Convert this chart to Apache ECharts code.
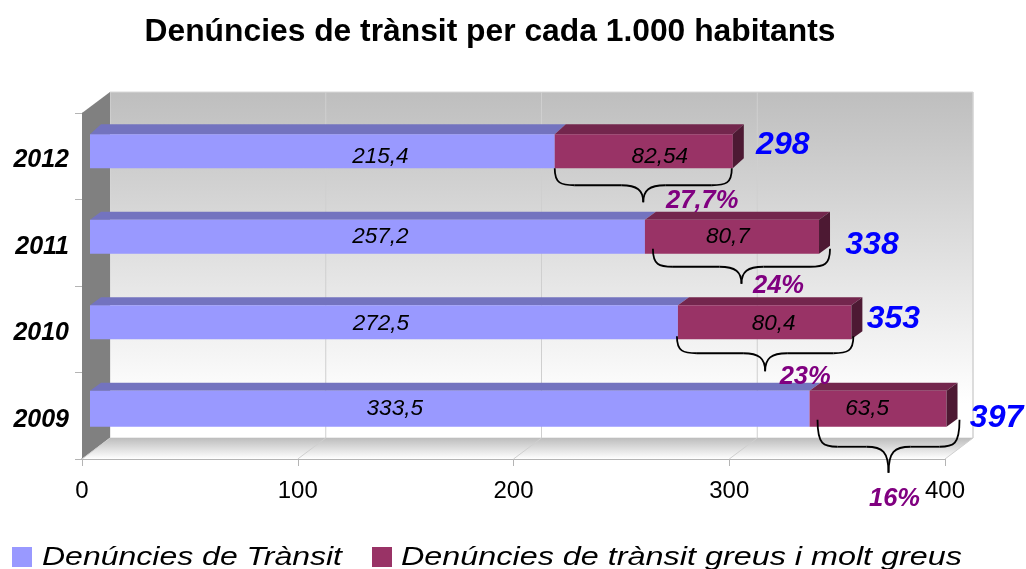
<!DOCTYPE html>
<html>
<head>
<meta charset="utf-8">
<style>
  html, body { margin: 0; padding: 0; background: #fff; }
  #chart { width: 1026px; height: 569px; }
</style>
<script src="https://cdn.jsdelivr.net/npm/echarts@6/dist/echarts.min.js"></script>
</head>
<body>
<div id="chart"></div>
<script>
// data
var years = ['2009', '2010', '2011', '2012'];
var denuncies = [333.5, 272.5, 257.2, 215.4];
var greus = [63.5, 80.4, 80.7, 82.54];
var totals = [397, 353, 338, 298];
var percents = ['16%', '23%', '24%', '27,7%'];
var xTicks = [0, 100, 200, 300, 400];
var serieNames = ['Denúncies de Trànsit', 'Denúncies de trànsit greus i molt greus'];

// hand placed bits of the 3d look, one row per year (same order as years)
var wallDx = 28, wallDy = -21;
var barShiftX = 8, barDepthX = 11;
var rowLayout = [
  { barDy: -7, barH: 36, depthY: 8, lab1: -55, lab2: -11, labDy: -7, totalDx: 58, totalDy: 2, pctDx: 6, pctDy: 83, b0: 16, b1: 21, top: 4, mid: 31, tip: 57 },
  { barDy: -7, barH: 34, depthY: 8, lab1: -3, lab2: 9, labDy: -6, totalDx: 50, totalDy: -10, pctDx: 40, pctDy: 48, b0: 7, b1: 10, top: 7, mid: 24, tip: 42 },
  { barDy: -6, barH: 34, depthY: 8, lab1: 13, lab2: -4, labDy: -6, totalDx: 61, totalDy: 2, pctDx: 37, pctDy: 43, b0: 16, b1: 19, top: 6, mid: 24, tip: 41 },
  { barDy: -5, barH: 34, depthY: 10, lab1: 58, lab2: 16, labDy: 0, totalDx: 58, totalDy: -11, pctDx: 59, pctDy: 45, b0: 8, b1: 7, top: 12, mid: 29, tip: 46 }
];

var colBlue = '#9999FF', colBlueTop = '#7373BF';
var colRed = '#993366', colRedTop = '#73264D', colRedSide = '#4D1933';

function comma(v) {
  return String(v).replace('.', ',');
}

function poly(points, fill) {
  return { type: 'polygon', shape: { points: points }, style: { fill: fill } };
}

function segmentText(text, x, y) {
  return {
    type: 'text',
    style: { text: text, x: x, y: y, fill: '#000', align: 'center', verticalAlign: 'middle', font: 'italic 22.5px "Liberation Sans"' }
  };
}

// the walls and the floor behind the bars
function renderWalls(params, api) {
  var top = params.coordSys.y;
  var bottom = params.coordSys.y + params.coordSys.height;
  var left = params.coordSys.x;
  var right = params.coordSys.x + params.coordSys.width;
  var children = [
    {
      type: 'rect',
      shape: { x: left + wallDx, y: top + wallDy, width: right - left, height: bottom - top },
      style: { fill: new echarts.graphic.LinearGradient(0, 0, 0, 1, [{ offset: 0, color: '#BEBEBE' }, { offset: 0.9, color: '#FFFFFF' }, { offset: 1, color: '#FFFFFF' }]), stroke: '#D8D8D8', lineWidth: 1 }
    },
    poly([[left, top], [left + wallDx, top + wallDy], [left + wallDx, bottom + wallDy], [left, bottom]], '#808080'),
    poly([[left, bottom], [left + wallDx, bottom + wallDy], [right + wallDx, bottom + wallDy], [right, bottom]],
      new echarts.graphic.LinearGradient(0, 0, 0, 1, [{ offset: 0, color: '#BDBDBD' }, { offset: 1, color: '#FFFFFF' }]))
  ];
  // grid lines on the back wall and on the floor
  xTicks.forEach(function (t) {
    var x = api.coord([t, 0])[0];
    if (t > 0) {
      children.push({ type: 'line', shape: { x1: x + wallDx, y1: top + wallDy, x2: x + wallDx, y2: bottom + wallDy }, style: { stroke: '#CFCFCF', lineWidth: 1 } });
    }
    children.push({ type: 'line', shape: { x1: x, y1: bottom, x2: x + wallDx, y2: bottom + wallDy }, style: { stroke: '#CFCFCF', lineWidth: 1 } });
  });
  return { type: 'group', children: children };
}

function renderBar(params, api) {
  var start = api.value(0), end = api.value(1), i = api.value(2);
  var row = rowLayout[i];
  var c0 = api.coord([start, i]), c1 = api.coord([end, i]);
  var x0 = c0[0] + barShiftX, x1 = c1[0] + barShiftX;
  var yTop = c0[1] + row.barDy - row.barH / 2;
  var yBot = yTop + row.barH;
  var isFirst = params.seriesIndex === 1;
  var children = [
    poly([[x0, yTop], [x0 + barDepthX, yTop - row.depthY], [x1 + barDepthX, yTop - row.depthY], [x1, yTop]], isFirst ? colBlueTop : colRedTop),
    poly([[x0, yTop], [x1, yTop], [x1, yBot], [x0, yBot]], isFirst ? colBlue : colRed)
  ];
  if (!isFirst) {
    children.push(poly([[x1, yTop], [x1 + barDepthX, yTop - row.depthY], [x1 + barDepthX, yBot - row.depthY], [x1, yBot]], colRedSide));
  }
  var mid = (x0 + x1) / 2 + (isFirst ? row.lab1 : row.lab2);
  children.push(segmentText(comma(isFirst ? denuncies[i] : greus[i]), mid, c0[1] + row.labDy));
  return { type: 'group', children: children };
}

function curve(x1, y1, cx1, cy1, cx2, cy2, x2, y2) {
  return {
    type: 'bezierCurve',
    shape: { x1: x1, y1: y1, cpx1: cx1, cpy1: cy1, cpx2: cx2, cpy2: cy2, x2: x2, y2: y2 },
    style: { stroke: '#000', lineWidth: 1.8, fill: null }
  };
}

// brace under the second segment, total and percentage
function renderNotes(params, api) {
  var i = api.value(2);
  var row = rowLayout[i];
  var c0 = api.coord([api.value(0), i]);
  var c1 = api.coord([api.value(1), i]);
  var cy = c0[1];
  var x0 = c0[0] + row.b0, x1 = c1[0] + row.b1;
  var tx = (x0 + x1) / 2;
  var yT = cy + row.top, yM = cy + row.mid, yE = cy + row.tip;
  var r = 20, t = 22;
  var children = [
    curve(x0, yT, x0, yM - 2, x0 + 6, yM, x0 + r, yM),
    { type: 'line', shape: { x1: x0 + r, y1: yM, x2: tx - t, y2: yM }, style: { stroke: '#000', lineWidth: 1.8 } },
    curve(tx - t, yM, tx - 6, yM, tx, yM + 5, tx, yE),
    curve(tx, yE, tx, yM + 5, tx + 6, yM, tx + t, yM),
    { type: 'line', shape: { x1: tx + t, y1: yM, x2: x1 - r, y2: yM }, style: { stroke: '#000', lineWidth: 1.8 } },
    curve(x1 - r, yM, x1 - 6, yM, x1, yM - 2, x1, yT),
    {
      type: 'text',
      style: { text: String(totals[i]), x: c1[0] + row.totalDx, y: cy + row.totalDy, fill: '#0000FF', align: 'center', verticalAlign: 'middle', font: 'italic bold 32px "Liberation Sans"' }
    },
    {
      type: 'text',
      style: { text: percents[i], x: tx + row.pctDx, y: cy + row.pctDy, fill: '#800080', align: 'center', verticalAlign: 'middle', font: 'italic bold 25.5px "Liberation Sans"' }
    }
  ];
  return { type: 'group', children: children };
}

// legend text in the reference is stretched sideways, so it is drawn by hand
var legendFont = 'italic 25px "Liberation Sans"';
var measureCtx = document.createElement('canvas').getContext('2d');
function legendItem(name, color, boxX, textX, textW) {
  measureCtx.font = legendFont;
  var sx = textW / measureCtx.measureText(name).width;
  return [
    { type: 'rect', shape: { x: boxX, y: 547, width: 20, height: 20 }, style: { fill: color } },
    { type: 'text', x: textX, y: 558, scaleX: sx, style: { text: name, x: 0, y: 0, fill: '#000', font: legendFont, align: 'left', verticalAlign: 'middle' } }
  ];
}

var data1 = [], data2 = [];
years.forEach(function (y, i) {
  data1.push([0, denuncies[i], i]);
  data2.push([denuncies[i], denuncies[i] + greus[i], i]);
});

var myChart = echarts.init(document.getElementById('chart'));
myChart.setOption({
  backgroundColor: '#fff',
  animation: false,
  title: {
    text: 'Denúncies de trànsit per cada 1.000 habitants',
    left: 485,
    top: 11,
    textAlign: 'center',
    textStyle: { fontFamily: 'Liberation Sans', fontWeight: 'bold', fontSize: 31.8, color: '#000' }
  },
  graphic: legendItem(serieNames[0], colBlue, 12, 42, 300).concat(legendItem(serieNames[1], colRed, 372, 401, 561)),
  grid: { left: 82, right: 81, top: 113, bottom: 110 },
  xAxis: {
    type: 'value',
    min: 0,
    max: 400,
    interval: 100,
    axisLine: { show: true, lineStyle: { color: '#B4B4B4', width: 2 } },
    axisTick: { show: true, length: 7, lineStyle: { color: '#B4B4B4' } },
    splitLine: { show: false },
    axisLabel: { color: '#000', fontFamily: 'Liberation Sans', fontSize: 24, margin: 20 }
  },
  yAxis: {
    type: 'category',
    data: years,
    axisLine: { show: true, lineStyle: { color: '#B4B4B4', width: 1 } },
    axisTick: { show: true, length: 7, lineStyle: { color: '#B4B4B4' } },
    axisLabel: { color: '#000', fontFamily: 'Liberation Sans', fontWeight: 'bold', fontStyle: 'italic', fontSize: 25, margin: 13, verticalAlign: 'top', lineHeight: 8 }
  },
  series: [
    { type: 'custom', name: 'walls', z: 1, silent: true, renderItem: renderWalls, data: [[0, 0, 0]], encode: { x: [0, 1], y: 2 } },
    { type: 'custom', name: serieNames[0], z: 3, renderItem: renderBar, itemStyle: { color: colBlue }, data: data1, encode: { x: [0, 1], y: 2 } },
    { type: 'custom', name: serieNames[1], z: 4, renderItem: renderBar, itemStyle: { color: colRed }, data: data2, encode: { x: [0, 1], y: 2 } },
    { type: 'custom', name: 'notes', z: 5, silent: true, renderItem: renderNotes, data: data2, encode: { x: [0, 1], y: 2 } }
  ]
});
</script>
</body>
</html>
